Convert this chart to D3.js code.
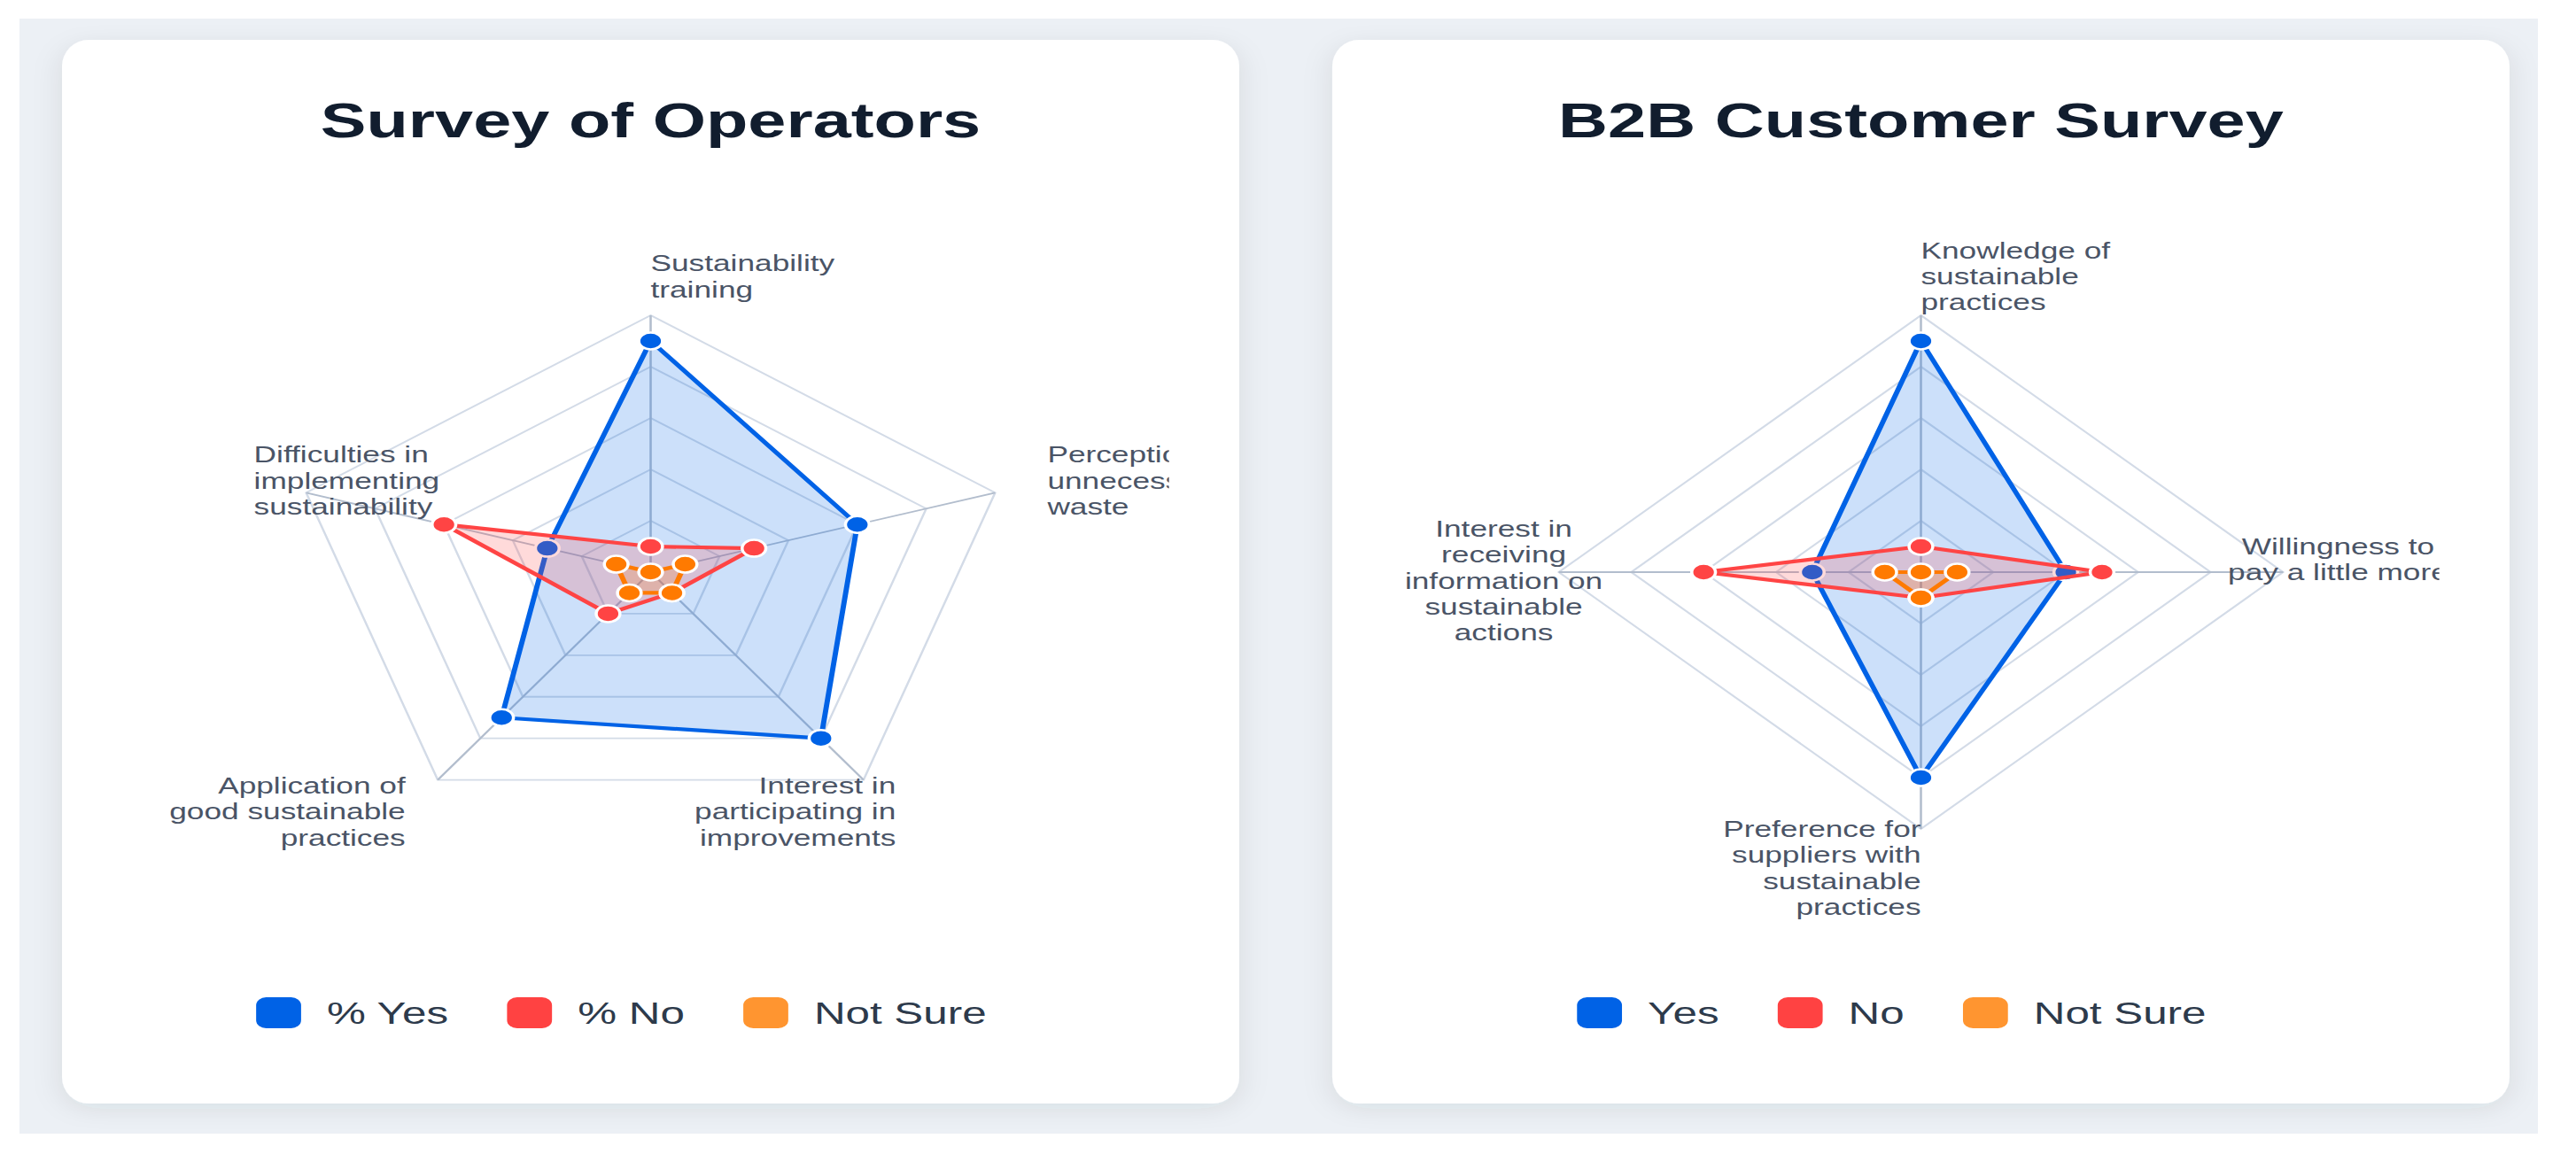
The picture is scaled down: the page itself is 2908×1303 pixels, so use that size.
<!DOCTYPE html>
<html>
<head>
<meta charset="utf-8">
<script src="https://cdn.jsdelivr.net/npm/d3@7"></script>
<style>
  html, body { margin: 0; padding: 0; background: #fff; overflow: hidden; }
  svg { display: block; }
  text { font-family: "Liberation Sans", Arial, Helvetica, sans-serif; }
</style>
</head>
<body>
<svg id="page"></svg>
<script>
// ---- data ----
const operatorAxes = [
  ["Sustainability", "training"],
  ["Perception of", "unnecessary", "waste"],
  ["Interest in", "participating in", "improvements"],
  ["Application of", "good sustainable", "practices"],
  ["Difficulties in", "implementing", "sustainability"]
];
const operatorYes = [90, 60, 80, 70, 30];
const operatorNo = [10, 30, 10, 20, 60];
const operatorNotSure = [0, 10, 10, 10, 10];
const operatorSeries = ["% Yes", "% No", "Not Sure"];

const customerAxes = [
  ["Knowledge of", "sustainable", "practices"],
  ["Willingness to", "pay a little more"],
  ["Preference for", "suppliers with", "sustainable", "practices"],
  ["Interest in", "receiving", "information on", "sustainable", "actions"]
];
const customerYes = [90, 40, 80, 30];
const customerNo = [10, 50, 10, 60];
const customerNotSure = [0, 10, 10, 10];
const customerSeries = ["Yes", "No", "Not Sure"];

const ringTicks = [20, 40, 60, 80, 100];

// ---- layout ----
const W = 2908, H = 1303;
const S = 1.41;               // the picture is stretched horizontally
const VW = W / S;

const colors = [
  { line: "#0062e6", fill: "rgba(0,98,230,0.2)", legend: "#0062e6" },
  { line: "#ff4444", fill: "rgba(255,68,68,0.2)", legend: "#ff4242" },
  { line: "#ff7a00", fill: "rgba(255,122,0,0.2)", legend: "#ff9530" }
];

const svg = d3.select("#page")
  .attr("width", W)
  .attr("height", H)
  .attr("viewBox", `0 0 ${VW} ${H}`)
  .attr("preserveAspectRatio", "none");

const defs = svg.append("defs");
const shadow = defs.append("filter")
  .attr("id", "shadow")
  .attr("x", "-10%").attr("y", "-10%")
  .attr("width", "120%").attr("height", "120%");
shadow.append("feDropShadow")
  .attr("dx", 0).attr("dy", 6)
  .attr("stdDeviation", 12)
  .attr("flood-color", "#1e293b")
  .attr("flood-opacity", 0.09);

svg.append("rect")
  .attr("x", 22 / S).attr("y", 21)
  .attr("width", (2865 - 22) / S).attr("height", 1280 - 21)
  .attr("fill", "#ecf0f5");

const charts = [
  { title: "Survey of Operators", axes: operatorAxes, series: operatorSeries,
    values: [operatorYes, operatorNo, operatorNotSure], x: 70 / S },
  { title: "B2B Customer Survey", axes: customerAxes, series: customerSeries,
    values: [customerYes, customerNo, customerNotSure], x: 1504 / S }
];

const cardW = 1329 / S, cardY = 45, cardH = 1201;
const cy = 646, R = 290, labelR = R + 44;

charts.forEach((c, ci) => {
  const cx = c.x + cardW / 2;
  const n = c.axes.length;
  const angle = i => i * 2 * Math.PI / n;
  const r = d3.scaleLinear().domain([0, 100]).range([0, R]);

  svg.append("rect")
    .attr("x", c.x).attr("y", cardY)
    .attr("width", cardW).attr("height", cardH)
    .attr("rx", 30 / S).attr("ry", 30)
    .attr("fill", "#fff")
    .attr("filter", "url(#shadow)");

  svg.append("text")
    .attr("x", cx).attr("y", 155)
    .attr("text-anchor", "middle")
    .attr("font-size", 55)
    .attr("font-weight", "bold")
    .attr("fill", "#111d2e")
    .text(c.title);

  // the canvas cuts off labels that run past its right edge
  const clipId = "clip" + ci;
  defs.append("clipPath").attr("id", clipId)
    .append("rect")
    .attr("x", c.x).attr("y", 0)
    .attr("width", cardW / 2 + 415).attr("height", H);

  const g = svg.append("g")
    .attr("clip-path", `url(#${clipId})`)
    .append("g")
    .attr("transform", `translate(${cx},${cy})`);

  const radial = d3.lineRadial()
    .angle((d, i) => angle(i))
    .radius(d => r(d))
    .curve(d3.curveLinearClosed);

  // rings
  g.selectAll(".ring")
    .data(ringTicks)
    .enter()
    .append("path")
    .attr("d", t => radial(d3.range(n).map(() => t)))
    .attr("fill", "none")
    .attr("stroke", "#d3dbe7")
    .attr("stroke-width", 1.8);

  // angle lines
  g.selectAll(".spoke")
    .data(d3.range(n))
    .enter()
    .append("line")
    .attr("x1", 0).attr("y1", 0)
    .attr("x2", i => r(100) * Math.sin(angle(i)))
    .attr("y2", i => -r(100) * Math.cos(angle(i)))
    .attr("stroke", "#b2bdcd")
    .attr("stroke-width", 1.8);

  // point labels
  c.axes.forEach((lines, i) => {
    const deg = i * 360 / n;
    let anchor = "end";
    if (deg === 90 || deg === 270) anchor = "middle";
    else if (deg < 90 || deg > 270) anchor = "start";
    const lh = 29.3;
    let nudge = 0;
    if (deg === 90) nudge = -lh / 2;
    if (deg === 270) nudge = lh / 3;
    const lx = labelR * Math.sin(angle(i));
    const ly = -labelR * Math.cos(angle(i)) + nudge;
    const t = g.append("text")
      .attr("text-anchor", anchor)
      .attr("font-size", 25)
      .attr("fill", "#4a5466");
    lines.forEach((line, k) => {
      t.append("tspan")
        .attr("x", lx)
        .attr("y", ly + (k - (lines.length - 1) / 2) * lh + 9)
        .text(line);
    });
  });

  // datasets
  c.values.forEach((vals, si) => {
    const col = colors[si];
    g.append("path")
      .attr("d", radial(vals))
      .attr("fill", col.fill)
      .attr("stroke", col.line)
      .attr("stroke-width", 4.2)
      .attr("stroke-linejoin", "round");

    g.selectAll(".pt" + si)
      .data(vals)
      .enter()
      .append("circle")
      .attr("cx", (d, i) => r(d) * Math.sin(angle(i)))
      .attr("cy", (d, i) => -r(d) * Math.cos(angle(i)))
      .attr("r", 9.5)
      .attr("fill", col.line)
      .attr("stroke", "#fff")
      .attr("stroke-width", 2.5);
  });

  // legend
  const legend = svg.append("g");
  const boxW = 36, boxH = 35, gap = 20.6, pad = 47, ly = 1143.5;
  const items = legend.selectAll("g")
    .data(c.series)
    .enter()
    .append("g");
  items.append("rect")
    .attr("width", boxW).attr("height", boxH)
    .attr("y", ly - boxH / 2)
    .attr("rx", 8).attr("ry", 9)
    .attr("fill", (d, i) => colors[i].legend);
  items.append("text")
    .attr("x", boxW + gap)
    .attr("y", ly + 12.5)
    .attr("font-size", 35)
    .attr("fill", "#2d3a4b")
    .text(d => d);

  let widths = [];
  items.select("text").each(function() { widths.push(this.getComputedTextLength()); });
  const total = d3.sum(widths) + c.series.length * (boxW + gap + pad);
  let x = cx - total / 2;
  items.attr("transform", (d, i) => {
    const tx = x;
    x += boxW + gap + widths[i] + pad;
    return `translate(${tx},0)`;
  });
});
</script>
</body>
</html>
